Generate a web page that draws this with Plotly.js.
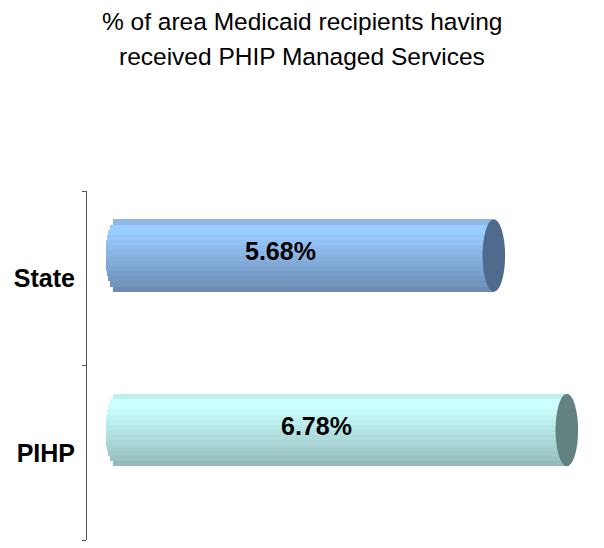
<!DOCTYPE html>
<html>
<head>
<meta charset="utf-8">
<script src="https://cdn.plot.ly/plotly-3.0.1.min.js"></script>
<style>html,body{margin:0;padding:0;background:#fff;}#chart{width:604px;height:548px;}</style>
</head>
<body>
<div id="chart"></div>
<script>
// ---- data ----
const categories = ['State', 'PIHP'];
const values = [5.68, 6.78];
const valueLabels = ['5.68%', '6.78%'];
const titleLines = ['% of area Medicaid recipients having', 'received PHIP Managed Services'];

// ---- style ----
const FONT = 'Liberation Sans, Arial, Helvetica, sans-serif';
const bandColors = { // top -> bottom
  'State': ['#8FB6E4','#99CCFF','#99CCFF','#96C7FA','#92C1F3','#8EBBEC','#8AB5E5','#86AFDE','#82AAD8','#7EA4D1','#7A9ECB','#7699C4','#7293BE','#6C8BB3'],
  'PIHP':  ['#BFEFEF','#CCFFFF','#CCFFFF','#C7F9F9','#C2F3F3','#BDEDED','#B8E7E7','#B3E1E1','#AEDBDB','#A9D5D5','#A4CFCF','#9FC9C9','#9AC3C3','#94BABA']
};
const capColors = {'State': '#4F6A8C', 'PIHP': '#628282'};
const barShift = 0.13;   // 3-D depth shift of bars upward (category units)
const barWidth = 0.415;  // total bar thickness (category units)
const capR = 0.17;       // half-width of end ellipse (x units)
const N = bandColors['State'].length;
const bw = barWidth / N;

// category positions: PIHP at 0 (bottom), State at 1 (top)
const order = ['PIHP', 'State'];
const pos = c => order.indexOf(c);

const traces = [];
for (let i = 0; i < N; i++) {           // i = 0 is the top band
  const off = barShift + barWidth / 2 - (i + 1) * bw;
  const t = ((barShift + barWidth / 2 - (i + 0.5) * bw) - barShift) / (barWidth / 2);
  const base = -capR * Math.sqrt(Math.max(0, 1 - t * t));
  traces.push({
    type: 'bar', orientation: 'h',
    y: categories,
    x: values.map(v => v - base),
    base: categories.map(() => base),
    offset: off, width: bw,
    marker: {color: categories.map(c => bandColors[c][i]), line: {width: 0}},
    hoverinfo: 'skip', showlegend: false
  });
}

// right-end caps of the cylinders
const shapes = categories.map((c, k) => ({
  type: 'circle', xref: 'x', yref: 'y', layer: 'above',
  x0: values[k] - capR, x1: values[k] + capR,
  y0: pos(c) + barShift - barWidth / 2, y1: pos(c) + barShift + barWidth / 2,
  fillcolor: capColors[c], line: {width: 0}
}));

const annotations = categories.map((c, k) => ({
  x: values[k] / 2, y: c, yshift: 22 + 5, xshift: -25,
  xref: 'x', yref: 'y', text: valueLabels[k], showarrow: false,
  font: {family: FONT, size: 25, color: '#000', weight: 'bold'}
}));
// title lines (centered on the page)
const titleY = [1.487, 1.384];
titleLines.forEach((line, k) => annotations.push({
  x: 0.419, y: titleY[k], xref: 'paper', yref: 'paper',
  xanchor: 'center', yanchor: 'middle', text: line, showarrow: false,
  font: {family: FONT, size: 24.5, color: '#000'}
}));

const layout = {
  width: 604, height: 548,
  paper_bgcolor: '#fff', plot_bgcolor: 'rgba(0,0,0,0)',
  margin: {l: 87, r: 4, t: 191, b: 8},
  barmode: 'overlay', bargap: 0,
  xaxis: {range: [-0.45, 7.28], visible: false, fixedrange: true},
  yaxis: {
    type: 'category', categoryorder: 'array', categoryarray: order,
    range: [-0.5, 1.5], showgrid: false, zeroline: false,
    showline: true, linecolor: '#555555', linewidth: 1,
    ticks: 'outside', ticklen: 4, tickcolor: '#555555', tickson: 'boundaries',
    ticklabelstandoff: 6,
    tickfont: {family: FONT, size: 25, color: '#000', weight: 'bold'},
    fixedrange: true
  },
  shapes: shapes,
  annotations: annotations,
  font: {family: FONT}
};

Plotly.newPlot('chart', traces, layout, {displayModeBar: false, staticPlot: true});
</script>
</body>
</html>
